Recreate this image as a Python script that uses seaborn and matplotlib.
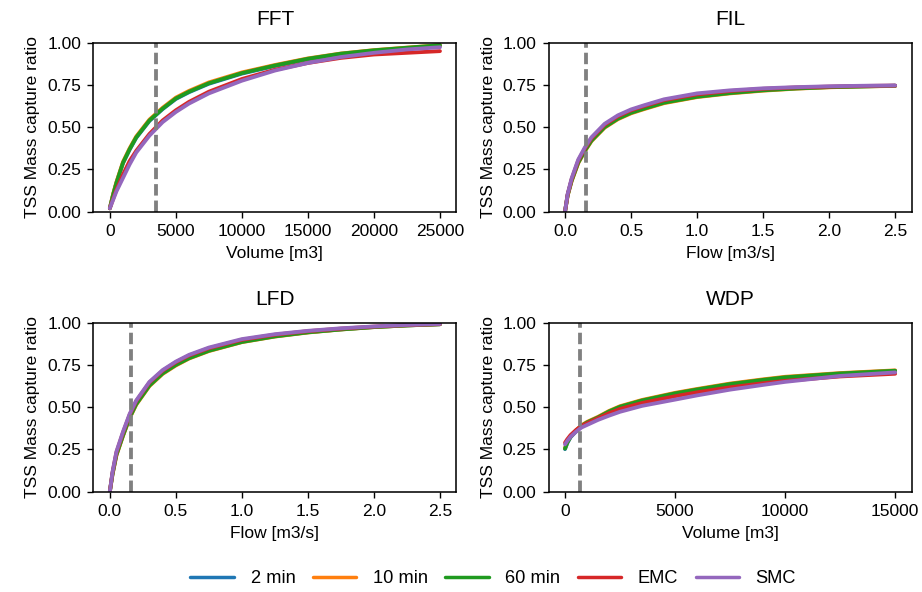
import numpy as np
import pandas as pd
import matplotlib
matplotlib.use("Agg")
import matplotlib.pyplot as plt
from matplotlib.lines import Line2D
import seaborn as sns

# Data --------------------------------------------------------------------------
series = ["2 min", "10 min", "60 min", "EMC", "SMC"]
colors = ["#1f77b4", "#ff7f0e", "#1f9a1f", "#d62728", "#9467bd"]

# FFT (volume based)
fft_x = [0, 250, 500, 1000, 1500, 2000, 3000, 4000, 5000, 6000, 7500, 10000,
         12500, 15000, 17500, 20000, 22500, 25000]
fft_2min = [0.02, 0.10, 0.17, 0.287, 0.367, 0.437, 0.537, 0.607, 0.667, 0.707,
            0.757, 0.817, 0.862, 0.902, 0.932, 0.952, 0.967, 0.982]
fft_10min = [0.02, 0.105, 0.175, 0.295, 0.375, 0.445, 0.545, 0.615, 0.675, 0.715,
             0.765, 0.824, 0.868, 0.907, 0.936, 0.956, 0.971, 0.985]
fft_60min = [0.02, 0.10, 0.17, 0.29, 0.37, 0.44, 0.54, 0.61, 0.67, 0.71,
             0.76, 0.82, 0.865, 0.905, 0.935, 0.955, 0.97, 0.985]
fft_emc = [0.02, 0.075, 0.13, 0.22, 0.30, 0.36, 0.46, 0.54, 0.60, 0.65,
           0.71, 0.785, 0.84, 0.88, 0.91, 0.93, 0.94, 0.95]
fft_smc = [0.02, 0.07, 0.12, 0.20, 0.28, 0.35, 0.45, 0.53, 0.59, 0.64,
           0.70, 0.775, 0.835, 0.88, 0.915, 0.94, 0.96, 0.973]

# FIL (flow based)
fil_x = [0, 0.02, 0.05, 0.1, 0.15, 0.2, 0.3, 0.4, 0.5, 0.6, 0.75, 1.0,
         1.25, 1.5, 1.75, 2.0, 2.25, 2.5]
fil_2min = [0.0, 0.10, 0.187, 0.295, 0.365, 0.425, 0.505, 0.555, 0.59, 0.615,
            0.65, 0.685, 0.706, 0.721, 0.731, 0.738, 0.742, 0.745]
fil_10min = [0.0, 0.095, 0.18, 0.287, 0.357, 0.417, 0.497, 0.547, 0.582, 0.607,
             0.642, 0.678, 0.70, 0.716, 0.728, 0.736, 0.741, 0.744]
fil_60min = [0.0, 0.097, 0.183, 0.29, 0.36, 0.42, 0.50, 0.55, 0.585, 0.61,
             0.645, 0.68, 0.702, 0.718, 0.729, 0.737, 0.741, 0.745]
fil_emc = [0.0, 0.102, 0.192, 0.302, 0.373, 0.434, 0.514, 0.564, 0.60, 0.625,
           0.66, 0.694, 0.714, 0.727, 0.735, 0.740, 0.744, 0.746]
fil_smc = [0.0, 0.105, 0.197, 0.308, 0.38, 0.44, 0.52, 0.57, 0.605, 0.63,
           0.665, 0.70, 0.718, 0.73, 0.737, 0.742, 0.745, 0.747]

# LFD (flow based)
lfd_x = [0, 0.02, 0.05, 0.1, 0.15, 0.2, 0.3, 0.4, 0.5, 0.6, 0.75, 1.0,
         1.25, 1.5, 1.75, 2.0, 2.25, 2.5]
lfd_2min = [0.0, 0.105, 0.222, 0.337, 0.442, 0.522, 0.632, 0.703, 0.753, 0.793,
            0.837, 0.889, 0.921, 0.944, 0.961, 0.975, 0.984, 0.991]
lfd_10min = [0.0, 0.10, 0.215, 0.33, 0.435, 0.515, 0.625, 0.697, 0.747, 0.788,
             0.832, 0.885, 0.918, 0.942, 0.96, 0.974, 0.984, 0.991]
lfd_60min = [0.0, 0.102, 0.218, 0.333, 0.438, 0.518, 0.628, 0.70, 0.75, 0.79,
             0.834, 0.886, 0.919, 0.943, 0.96, 0.974, 0.984, 0.991]
lfd_emc = [0.0, 0.112, 0.232, 0.35, 0.455, 0.536, 0.646, 0.716, 0.766, 0.806,
           0.849, 0.899, 0.929, 0.95, 0.965, 0.977, 0.986, 0.992]
lfd_smc = [0.0, 0.115, 0.237, 0.355, 0.46, 0.54, 0.65, 0.72, 0.77, 0.81,
           0.853, 0.903, 0.932, 0.952, 0.967, 0.978, 0.987, 0.993]

# WDP (volume based)
wdp_x = [0, 100, 250, 500, 750, 1000, 1500, 2000, 2500, 3500, 5000, 6000,
         7500, 9000, 10000, 12500, 15000]
wdp_2min = [0.252, 0.287, 0.322, 0.357, 0.387, 0.407, 0.437, 0.472, 0.50,
            0.537, 0.579, 0.602, 0.634, 0.659, 0.674, 0.698, 0.714]
wdp_10min = [0.258, 0.293, 0.328, 0.363, 0.393, 0.413, 0.443, 0.478, 0.506,
             0.543, 0.585, 0.608, 0.64, 0.665, 0.68, 0.702, 0.718]
wdp_60min = [0.255, 0.29, 0.325, 0.36, 0.39, 0.41, 0.44, 0.475, 0.503,
             0.54, 0.582, 0.605, 0.637, 0.662, 0.677, 0.70, 0.716]
wdp_emc = [0.29, 0.31, 0.335, 0.365, 0.39, 0.405, 0.435, 0.465, 0.49,
           0.525, 0.565, 0.588, 0.618, 0.642, 0.656, 0.682, 0.698]
wdp_smc = [0.28, 0.30, 0.325, 0.355, 0.38, 0.395, 0.425, 0.45, 0.473,
           0.508, 0.545, 0.57, 0.604, 0.632, 0.65, 0.685, 0.706]

# design thresholds (dashed lines)
fft_design = 3500
fil_design = 0.16
lfd_design = 0.163
wdp_design = 680


def make_frame(x, ys):
    frames = []
    for name, y in zip(series, ys):
        frames.append(pd.DataFrame({"x": x, "y": y, "Series": name}))
    return pd.concat(frames, ignore_index=True)


def draw_panel(ax, title, xlabel, x, ys, design):
    df = make_frame(x, ys)
    sns.lineplot(data=df, x="x", y="y", hue="Series", hue_order=series,
                 palette=colors, linewidth=2.2, legend=False, ax=ax)
    ax.axvline(design, color="gray", linewidth=2.2, linestyle=(0, (3, 1.3)))
    ax.set_ylim(0, 1)
    ax.set_yticks([0, 0.25, 0.5, 0.75, 1.0])
    ax.set_title(title, fontsize=12, pad=10)
    ax.set_xlabel(xlabel)
    ax.set_ylabel("TSS Mass capture ratio")


def main():
    sns.set_style("ticks")
    plt.rcParams["font.family"] = ["Liberation Sans", "DejaVu Sans"]
    plt.rcParams.update({
        "font.size": 10,
        "axes.edgecolor": "black",
        "axes.labelcolor": "black",
        "text.color": "black",
        "xtick.color": "black",
        "ytick.color": "black",
        "xtick.major.size": 3.5,
        "ytick.major.size": 3.5,
        "xtick.labelsize": 10,
        "ytick.labelsize": 10,
        "axes.labelsize": 10,
        "axes.linewidth": 0.9,
    })

    fig, axes = plt.subplots(2, 2, figsize=(922 / 125, 592 / 125), dpi=125)
    fig.subplots_adjust(left=0.1012, right=0.9888, top=0.9279, bottom=0.1694,
                        wspace=0.2534, hspace=0.657)

    draw_panel(axes[0, 0], "FFT", "Volume [m3]", fft_x,
               [fft_2min, fft_10min, fft_60min, fft_emc, fft_smc], fft_design)
    draw_panel(axes[0, 1], "FIL", "Flow [m3/s]", fil_x,
               [fil_2min, fil_10min, fil_60min, fil_emc, fil_smc], fil_design)
    draw_panel(axes[1, 0], "LFD", "Flow [m3/s]", lfd_x,
               [lfd_2min, lfd_10min, lfd_60min, lfd_emc, lfd_smc], lfd_design)
    draw_panel(axes[1, 1], "WDP", "Volume [m3]", wdp_x,
               [wdp_2min, wdp_10min, wdp_60min, wdp_emc, wdp_smc], wdp_design)

    axes[0, 1].set_xticks([0, 0.5, 1.0, 1.5, 2.0, 2.5])
    axes[1, 0].set_xticks([0, 0.5, 1.0, 1.5, 2.0, 2.5])
    axes[1, 1].set_xticks([0, 5000, 10000, 15000])

    handles = [Line2D([0], [0], color=c, linewidth=2) for c in colors]
    fig.legend(handles, series, loc="center", bbox_to_anchor=(0.535, 0.022),
               ncol=5, frameon=False, fontsize=10.5, handlelength=2.4,
               handletextpad=0.9, columnspacing=0.95)

    fig.savefig("out.png", dpi=125)


main()
